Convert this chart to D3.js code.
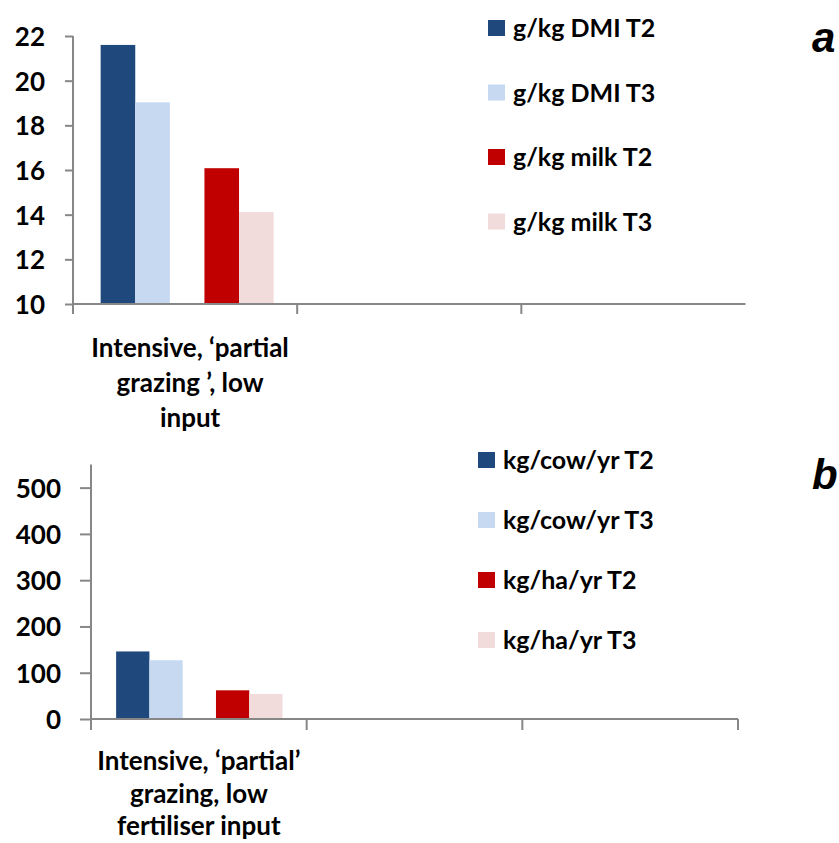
<!DOCTYPE html>
<html><head><meta charset="utf-8">
<script src="https://cdn.jsdelivr.net/npm/d3@7"></script>
<style>
body{margin:0;background:#fff;}
text{font-family:Lato, "Open Sans", sans-serif;font-weight:bold;}
</style></head>
<body><svg id="c" width="839" height="843"></svg>
<script>
// ---- data ----
const categories = ["cat1", "cat2", "cat3"];
const slots = ["T2a", "T3a", "gap", "T2b", "T3b"];

const seriesA = ["g/kg DMI T2", "g/kg DMI T3", "g/kg milk T2", "g/kg milk T3"];
const valuesA = [21.6, 19.03, 16.08, 14.12];
const ticksA = [10, 12, 14, 16, 18, 20, 22];
const catLabelA = ["Intensive, \u2018partial", "grazing \u2019, low", "input"];

const seriesB = ["kg/cow/yr T2", "kg/cow/yr T3", "kg/ha/yr T2", "kg/ha/yr T3"];
const valuesB = [146, 127, 62, 54];
const ticksB = [0, 100, 200, 300, 400, 500];
const catLabelB = ["Intensive, \u2018partial\u2019", "grazing, low", "fertiliser input"];

const colors = ["#1F497D", "#C6D9F1", "#C00000", "#F2DCDB"];
const seriesSlot = ["T2a", "T3a", "T2b", "T3b"];

const svg = d3.select("#c");
const axisColor = "#878787";

function panel(cfg) {
  const g = svg.append("g");
  const x = d3.scaleBand().domain(categories).range([cfg.x0, cfg.x1]).padding(0);
  const y = d3.scaleLinear().domain(cfg.ydom).range([cfg.y0, cfg.ytop]);
  const sub = d3.scaleBand().domain(slots).range([0, x.bandwidth()])
    .paddingInner(0).paddingOuter(0.74).align(cfg.align);

  // bars
  g.selectAll("rect.bar").data(cfg.values).enter().append("rect")
    .attr("x", (d, i) => x(categories[0]) + sub(seriesSlot[i]))
    .attr("width", sub.bandwidth())
    .attr("y", d => y(d))
    .attr("height", d => y(cfg.ydom[0]) - y(d))
    .attr("fill", (d, i) => colors[i]);

  // y axis
  const ya = d3.axisLeft(y).tickValues(cfg.ticks).tickSize(cfg.ytick).tickPadding(cfg.ypad).tickFormat(d3.format("d"));
  const yg = g.append("g").attr("transform", `translate(${cfg.x0},0)`).call(ya);
  yg.select(".domain").remove();
  yg.append("line").attr("x1", 0).attr("x2", 0).attr("y1", cfg.ytop).attr("y2", cfg.y0 + cfg.xtick)
    .attr("stroke", axisColor).attr("stroke-width", 2);
  yg.selectAll(".tick line").attr("stroke", axisColor).attr("stroke-width", 2);
  yg.selectAll(".tick text").attr("fill", "#000").style("font-size", "26px").style("font-family", "Lato").style("font-weight", "bold").attr("dy", "0.36em");

  // x axis
  const xa = g.append("g");
  xa.append("line").attr("x1", cfg.x0).attr("x2", cfg.x1).attr("y1", cfg.y0).attr("y2", cfg.y0)
    .attr("stroke", axisColor).attr("stroke-width", 2);
  const bounds = categories.map(c => x(c) + x.bandwidth()).filter((v, i) => cfg.endTick || i < categories.length - 1);
  xa.selectAll("line.t").data(bounds).enter().append("line")
    .attr("x1", d => d).attr("x2", d => d).attr("y1", cfg.y0).attr("y2", cfg.y0 + cfg.xtick)
    .attr("stroke", axisColor).attr("stroke-width", 2);

  // category label
  const cx = x(categories[0]) + x.bandwidth() / 2 + cfg.labelDx;
  g.append("text").attr("text-anchor", "middle").style("font-size", "26px")
    .selectAll("tspan").data(cfg.catLabel).enter().append("tspan")
    .attr("x", cx).attr("y", (d, i) => cfg.labelY + i * cfg.labelStep).text(d => d);

  // legend
  const lg = g.append("g");
  cfg.series.forEach((s, i) => {
    const cy = cfg.legY + i * cfg.legStep;
    lg.append("rect").attr("x", cfg.legX).attr("y", cy - 8).attr("width", 17).attr("height", 16).attr("fill", colors[i]);
    lg.append("text").attr("x", cfg.legX + 25).attr("y", cy).attr("dy", "0.36em").style("font-size", "25px").text(s);
  });

  // panel letter
  g.append("text").attr("x", cfg.letterX).attr("y", cfg.letterY)
    .style("font-family", "Liberation Sans, Arial, sans-serif").style("font-weight", "bold").style("font-style", "italic")
    .style("font-size", "42px").text(cfg.letter);
}

panel({
  x0: 73, x1: 745.5, y0: 304, ytop: 36, ydom: [10, 22], ticks: ticksA,
  ytick: 8, ypad: 20, xtick: 10, align: 0.54, endTick: false,
  values: valuesA, series: seriesA, catLabel: catLabelA, labelY: 357, labelStep: 35, labelDx: 5,
  legX: 488, legY: 28, legStep: 64.5, letter: "a", letterX: 812, letterY: 52
});
panel({
  x0: 91, x1: 738, y0: 719, ytop: 464.5, ydom: [0, 550], ticks: ticksB,
  ytick: 11, ypad: 19, xtick: 11, align: 0.51, endTick: true,
  values: valuesB, series: seriesB, catLabel: catLabelB, labelY: 770, labelStep: 32.5, labelDx: 0,
  legX: 478, legY: 460, legStep: 60, letter: "b", letterX: 812, letterY: 489
});
</script></body></html>
